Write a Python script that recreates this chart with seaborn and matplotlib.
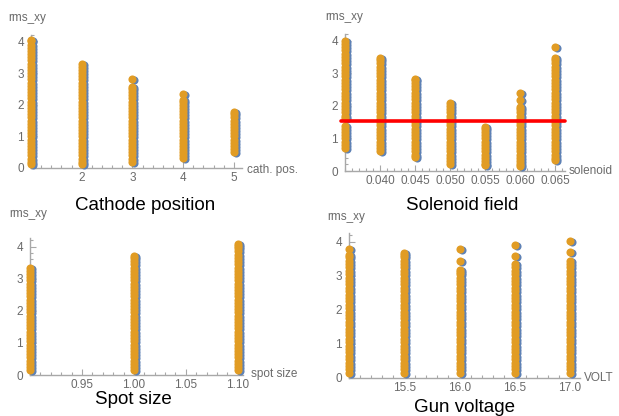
import pandas as pd
import numpy as np
import seaborn as sns
import matplotlib.pyplot as plt
from matplotlib.ticker import MultipleLocator, FormatStrFormatter
from matplotlib.transforms import ScaledTranslation

# --- data (rms_xy values per setting) ---
cath_pos = [1, 2, 3, 4, 5]
cath_rms = [
    [0.12, 0.2, 0.3, 0.4, 0.5, 0.6, 0.7, 0.8, 0.9, 1.0, 1.1, 1.2, 1.3, 1.4, 1.5, 1.6, 1.7, 1.8, 1.9, 2.0,
     2.1, 2.2, 2.3, 2.4, 2.5, 2.6, 2.7, 2.8, 2.9, 3.0, 3.1, 3.2, 3.3, 3.4, 3.5, 3.6, 3.7, 3.8, 3.9, 4.0, 4.05],
    [0.12, 0.2, 0.3, 0.4, 0.5, 0.6, 0.7, 0.8, 0.9, 1.0, 1.1, 1.2, 1.3, 1.4, 1.5, 1.6, 1.7, 1.8, 1.9, 2.0,
     2.1, 2.2, 2.3, 2.4, 2.5, 2.6, 2.7, 2.8, 2.9, 3.0, 3.1, 3.2, 3.3],
    [0.2, 0.3, 0.4, 0.5, 0.6, 0.7, 0.8, 0.9, 1.0, 1.1, 1.2, 1.3, 1.4, 1.5, 1.6, 1.7, 1.8, 1.9, 2.0,
     2.1, 2.2, 2.3, 2.4, 2.5, 2.57, 2.82],
    [0.32, 0.4, 0.5, 0.6, 0.7, 0.8, 0.9, 1.0, 1.1, 1.2, 1.3, 1.4, 1.5, 1.6, 1.7, 1.8, 1.9, 2.0,
     2.1, 2.15, 2.33],
    [0.52, 0.6, 0.7, 0.8, 0.9, 1.0, 1.1, 1.2, 1.3, 1.4, 1.5, 1.6, 1.7, 1.78],
]

sol_field = [0.035, 0.040, 0.045, 0.050, 0.055, 0.060, 0.065]
sol_rms = [
    [0.72, 0.8, 0.9, 1.0, 1.1, 1.2, 1.3, 1.38, 1.62, 1.7, 1.8, 1.9, 2.0, 2.1, 2.2, 2.3, 2.4, 2.5, 2.6, 2.7,
     2.8, 2.9, 3.0, 3.1, 3.2, 3.3, 3.4, 3.5, 3.6, 3.7, 3.8, 3.9, 4.0],
    [0.6, 0.7, 0.8, 0.9, 1.0, 1.1, 1.2, 1.3, 1.4, 1.5, 1.6, 1.7, 1.8, 1.9, 2.0, 2.1, 2.2, 2.3, 2.4, 2.5,
     2.6, 2.7, 2.8, 2.9, 3.0, 3.1, 3.2, 3.3, 3.4, 3.45],
    [0.42, 0.5, 0.6, 0.7, 0.8, 0.9, 1.0, 1.1, 1.2, 1.3, 1.4, 1.5, 1.6, 1.7, 1.8, 1.9, 2.0, 2.1, 2.2, 2.3,
     2.4, 2.5, 2.6, 2.7, 2.8, 2.82],
    [0.2, 0.3, 0.4, 0.5, 0.6, 0.7, 0.8, 0.9, 1.0, 1.1, 1.2, 1.3, 1.4, 1.5, 1.6, 1.7, 1.8, 1.9, 2.0, 2.1],
    [0.17, 0.2, 0.3, 0.4, 0.5, 0.6, 0.7, 0.8, 0.9, 1.0, 1.1, 1.2, 1.3, 1.35],
    [0.14, 0.2, 0.3, 0.4, 0.5, 0.6, 0.7, 0.8, 0.9, 1.0, 1.1, 1.2, 1.3, 1.4, 1.5, 1.6, 1.7, 1.8, 1.9, 1.97,
     2.18, 2.38],
    [0.35, 0.4, 0.5, 0.6, 0.7, 0.8, 0.9, 1.0, 1.1, 1.2, 1.3, 1.4, 1.5, 1.6, 1.7, 1.8, 1.9, 2.0, 2.1, 2.2,
     2.3, 2.4, 2.5, 2.6, 2.7, 2.8, 2.9, 3.0, 3.1, 3.2, 3.3, 3.4, 3.45, 3.8],
]
sol_target = 1.52

spot_size = [0.90, 1.00, 1.10]
spot_rms = [
    [0.15, 0.25, 0.35, 0.45, 0.55, 0.65, 0.75, 0.85, 0.95, 1.05, 1.15, 1.25, 1.35, 1.45, 1.55, 1.65, 1.75,
     1.85, 1.95, 2.05, 2.15, 2.25, 2.35, 2.45, 2.55, 2.65, 2.75, 2.85, 2.95, 3.05, 3.15, 3.25, 3.35],
    [0.15, 0.25, 0.35, 0.45, 0.55, 0.65, 0.75, 0.85, 0.95, 1.05, 1.15, 1.25, 1.35, 1.45, 1.55, 1.65, 1.75,
     1.85, 1.95, 2.05, 2.15, 2.25, 2.35, 2.45, 2.55, 2.65, 2.75, 2.85, 2.95, 3.05, 3.15, 3.25, 3.35, 3.45,
     3.55, 3.65, 3.72],
    [0.15, 0.25, 0.35, 0.45, 0.55, 0.65, 0.75, 0.85, 0.95, 1.05, 1.15, 1.25, 1.35, 1.45, 1.55, 1.65, 1.75,
     1.85, 1.95, 2.05, 2.15, 2.25, 2.35, 2.45, 2.55, 2.65, 2.75, 2.85, 2.95, 3.05, 3.15, 3.25, 3.35, 3.45,
     3.55, 3.65, 3.75, 3.85, 3.95, 4.02, 4.07],
]

gun_volt = [15.0, 15.5, 16.0, 16.5, 17.0]
volt_rms = [
    [0.15, 0.25, 0.35, 0.45, 0.55, 0.65, 0.75, 0.85, 0.95, 1.05, 1.15, 1.25, 1.35, 1.45, 1.55, 1.65, 1.75,
     1.85, 1.95, 2.05, 2.15, 2.25, 2.35, 2.45, 2.55, 2.65, 2.75, 2.85, 2.95, 3.05, 3.15, 3.25, 3.35, 3.45,
     3.55, 3.6, 3.8],
    [0.15, 0.25, 0.35, 0.45, 0.55, 0.65, 0.75, 0.85, 0.95, 1.05, 1.15, 1.25, 1.35, 1.45, 1.55, 1.65, 1.75,
     1.85, 1.95, 2.05, 2.15, 2.25, 2.35, 2.45, 2.55, 2.65, 2.75, 2.85, 2.95, 3.05, 3.15, 3.25, 3.35, 3.45,
     3.55, 3.62, 3.68],
    [0.15, 0.25, 0.35, 0.45, 0.55, 0.65, 0.75, 0.85, 0.95, 1.05, 1.15, 1.25, 1.35, 1.45, 1.55, 1.65, 1.75,
     1.85, 1.95, 2.05, 2.15, 2.25, 2.35, 2.45, 2.55, 2.65, 2.75, 2.85, 2.95, 3.05, 3.12, 3.17, 3.43, 3.78],
    [0.15, 0.25, 0.35, 0.45, 0.55, 0.65, 0.75, 0.85, 0.95, 1.05, 1.15, 1.25, 1.35, 1.45, 1.55, 1.65, 1.75,
     1.85, 1.95, 2.05, 2.15, 2.25, 2.35, 2.45, 2.55, 2.65, 2.75, 2.85, 2.95, 3.05, 3.15, 3.25, 3.35, 3.57,
     3.9],
    [0.15, 0.25, 0.35, 0.45, 0.55, 0.65, 0.75, 0.85, 0.95, 1.05, 1.15, 1.25, 1.35, 1.45, 1.55, 1.65, 1.75,
     1.85, 1.95, 2.05, 2.15, 2.25, 2.35, 2.45, 2.55, 2.65, 2.75, 2.85, 2.95, 3.05, 3.15, 3.25, 3.35, 3.45,
     3.7, 4.02],
]

BLUE = '#5E81B5'
ORANGE = '#E19C24'
AXIS_GRAY = '#a8a8a8'
LABEL_GRAY = '#6a6a6a'

sns.set_style('ticks')
plt.rcParams['font.family'] = ['Liberation Sans', 'DejaVu Sans']

W, H = 619, 416
fig = plt.figure(figsize=(W / 100, H / 100), dpi=100)


def to_frame(xs, cols):
    rows = [(x, y) for x, col in zip(xs, cols) for y in col]
    return pd.DataFrame(rows, columns=['setting', 'rms_xy'])


def make_axes(left, top, right, bottom):
    return fig.add_axes([left / W, 1 - bottom / H, (right - left) / W, (bottom - top) / H])


def draw_panel(ax, xs, cols, xlim, ylim, major, minor, fmt, xlabel, title,
               ylab_xy, xlab_xy, title_xy):
    df = to_frame(xs, cols)
    # blue series sits just behind the orange one
    shift = ScaledTranslation(2.0 / 100, -1.0 / 100, fig.dpi_scale_trans)
    sns.scatterplot(data=df, x='setting', y='rms_xy', ax=ax, color=BLUE, s=34,
                    linewidth=0, transform=ax.transData + shift, clip_on=False, zorder=3)
    sns.scatterplot(data=df, x='setting', y='rms_xy', ax=ax, color=ORANGE, s=34,
                    linewidth=0, clip_on=False, zorder=4)
    ax.set_xlim(*xlim)
    ax.set_ylim(*ylim)
    ax.set_xlabel('')
    ax.set_ylabel('')
    # origin tick is left unlabelled, as Mathematica does
    ticks = [t for t in np.arange(xlim[0] + major, xlim[1] + 1e-9, major)]
    ax.set_xticks(ticks)
    ax.xaxis.set_major_formatter(FormatStrFormatter(fmt))
    ax.xaxis.set_minor_locator(MultipleLocator(minor))
    ax.yaxis.set_major_locator(MultipleLocator(1))
    ax.yaxis.set_minor_locator(MultipleLocator(0.2))
    sns.despine(ax=ax)
    for sp in ('left', 'bottom'):
        ax.spines[sp].set_color(AXIS_GRAY)
        ax.spines[sp].set_linewidth(1.0)
    ax.tick_params(which='both', direction='in', color=AXIS_GRAY, labelcolor=LABEL_GRAY,
                   labelsize=8.5, width=0.8)
    ax.tick_params(which='major', length=4)
    ax.tick_params(axis='x', which='major', pad=3)
    ax.tick_params(axis='y', which='major', pad=5)
    ax.tick_params(which='minor', length=2)
    fig.text(ylab_xy[0] / W, 1 - ylab_xy[1] / H, 'rms_xy', fontsize=8.5, color=LABEL_GRAY,
             ha='left', va='center')
    fig.text(xlab_xy[0] / W, 1 - xlab_xy[1] / H, xlabel, fontsize=8.5, color=LABEL_GRAY,
             ha='left', va='center')
    fig.text(title_xy[0] / W, 1 - title_xy[1] / H, title, fontsize=13.5, color='black',
             ha='center', va='center')


ax1 = make_axes(31, 35, 242, 168)
draw_panel(ax1, cath_pos, cath_rms, (1, 5.16), (0, 4.2), 1, 0.2, '%d', 'cath. pos.',
           'Cathode position', (8, 18), (247, 170), (145, 205))

ax2 = make_axes(345, 34, 565, 171)
draw_panel(ax2, sol_field, sol_rms, (0.035, 0.0664), (0, 4.2), 0.005, 0.001, '%.3f', 'solenoid',
           'Solenoid field', (325, 17), (569, 171), (462, 205))
ax2.axhline(sol_target, xmin=-0.02, color='#ff0000', lw=2.6, zorder=5, clip_on=False)

ax3 = make_axes(30, 238, 243, 375)
draw_panel(ax3, spot_size, spot_rms, (0.9, 1.105), (0, 4.27), 0.05, 0.01, '%.2f', 'spot size',
           'Spot size', (9, 214), (251, 374), (133, 400))

ax4 = make_axes(349, 233, 580, 378)
draw_panel(ax4, gun_volt, volt_rms, (15.0, 17.09), (0, 4.26), 0.5, 0.1, '%.1f', 'VOLT',
           'Gun voltage', (327, 217), (584, 378), (464, 407))

fig.savefig('out.png', dpi=100, facecolor='white')
